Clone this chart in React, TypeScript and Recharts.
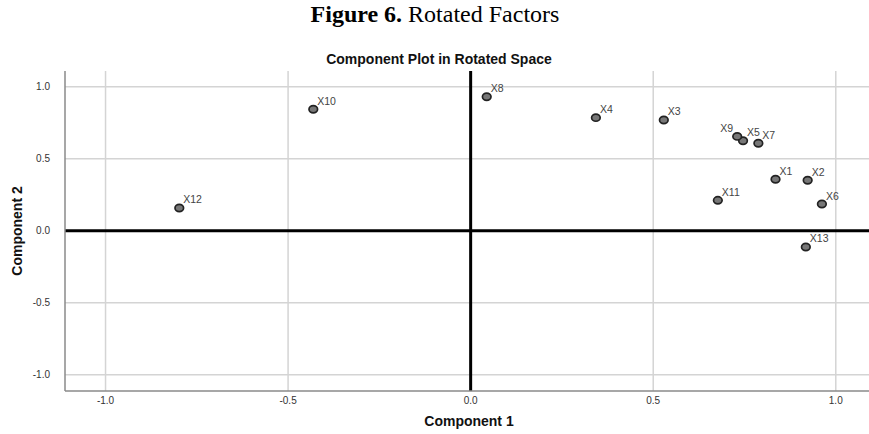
import React from "react";
import {
  ScatterChart,
  Scatter,
  XAxis,
  YAxis,
  ReferenceLine,
} from "recharts";

const labels = ["X1", "X2", "X3", "X4", "X5", "X6", "X7", "X8", "X9", "X10", "X11", "X12", "X13"];
const component1 = [0.835, 0.923, 0.529, 0.343, 0.746, 0.962, 0.788, 0.044, 0.73, -0.431, 0.677, -0.798, 0.918];
const component2 = [0.357, 0.35, 0.769, 0.785, 0.625, 0.185, 0.607, 0.93, 0.655, 0.843, 0.211, 0.158, -0.113];
const tickValues = [-1, -0.5, 0, 0.5, 1];
const leftLabelled = ["X9"];

const data = labels.map((name, i) => ({ name, x: component1[i], y: component2[i] }));

const W = 869;
const H = 434;
const SANS = "'Liberation Sans', Arial, sans-serif";

const fmt = (v: number) => v.toFixed(1);

const PointShape = (props: any) => {
  const { cx, cy, payload } = props;
  if (cx == null || cy == null) return null;
  const left = leftLabelled.includes(payload.name);
  return (
    <g>
      <ellipse cx={cx} cy={cy} rx={4.3} ry={3.6} fill="#777" stroke="#222" strokeWidth={1.7} />
      <text
        x={left ? cx - 4 : cx + 4}
        y={cy - 4.5}
        textAnchor={left ? "end" : "start"}
        fontSize={10.5}
        fontFamily={SANS}
        fill="#444"
      >
        {payload.name}
      </text>
    </g>
  );
};

export default function App() {
  return (
    <div style={{ position: "absolute", left: 0, top: 0, width: W, height: H, background: "#fff" }}>
      <ScatterChart width={W} height={H} margin={{ top: 71, right: 0, bottom: 0, left: 0 }}>
        {tickValues.map((v) => (
          <ReferenceLine key={"gx" + v} x={v} stroke="#d4d4d4" strokeWidth={1.5} />
        ))}
        {tickValues.map((v) => (
          <ReferenceLine key={"gy" + v} y={v} stroke="#d4d4d4" strokeWidth={1.5} />
        ))}
        <XAxis
          type="number"
          dataKey="x"
          domain={[-1.111, 1.091]}
          ticks={tickValues}
          tickFormatter={fmt}
          height={43}
          tickSize={0}
          tickMargin={6}
          stroke="#8a8a8a"
          strokeWidth={1.5}
          tick={{ fontSize: 10, fill: "#333", fontFamily: SANS }}
          allowDataOverflow
        />
        <YAxis
          type="number"
          dataKey="y"
          domain={[-1.113, 1.109]}
          ticks={tickValues}
          tickFormatter={fmt}
          width={65}
          tickSize={0}
          tickMargin={15}
          stroke="#8a8a8a"
          strokeWidth={1.5}
          tick={{ fontSize: 10, fill: "#333", fontFamily: SANS }}
          allowDataOverflow
        />
        <ReferenceLine x={0} stroke="#000" strokeWidth={3} />
        <ReferenceLine y={0} stroke="#000" strokeWidth={3} />
        <Scatter data={data} isAnimationActive={false} shape={<PointShape />} />
      </ScatterChart>
      <svg
        width={W}
        height={H}
        style={{ position: "absolute", left: 0, top: 0, pointerEvents: "none" }}
      >
        <text x={435} y={22} textAnchor="middle" fontSize={24} fontFamily="'Liberation Serif', 'Times New Roman', serif" fill="#000">
          <tspan fontWeight="bold">Figure 6.</tspan>
          <tspan> Rotated Factors</tspan>
        </text>
        <text x={439} y={64} textAnchor="middle" fontSize={14} fontWeight="bold" fontFamily={SANS} fill="#111">
          Component Plot in Rotated Space
        </text>
        <text x={469} y={426} textAnchor="middle" fontSize={14} fontWeight="bold" fontFamily={SANS} fill="#111">
          Component 1
        </text>
        <text
          x={0}
          y={0}
          transform="translate(22,231) rotate(-90)"
          textAnchor="middle"
          fontSize={14}
          fontWeight="bold"
          fontFamily={SANS}
          fill="#111"
        >
          Component 2
        </text>
      </svg>
    </div>
  );
}
